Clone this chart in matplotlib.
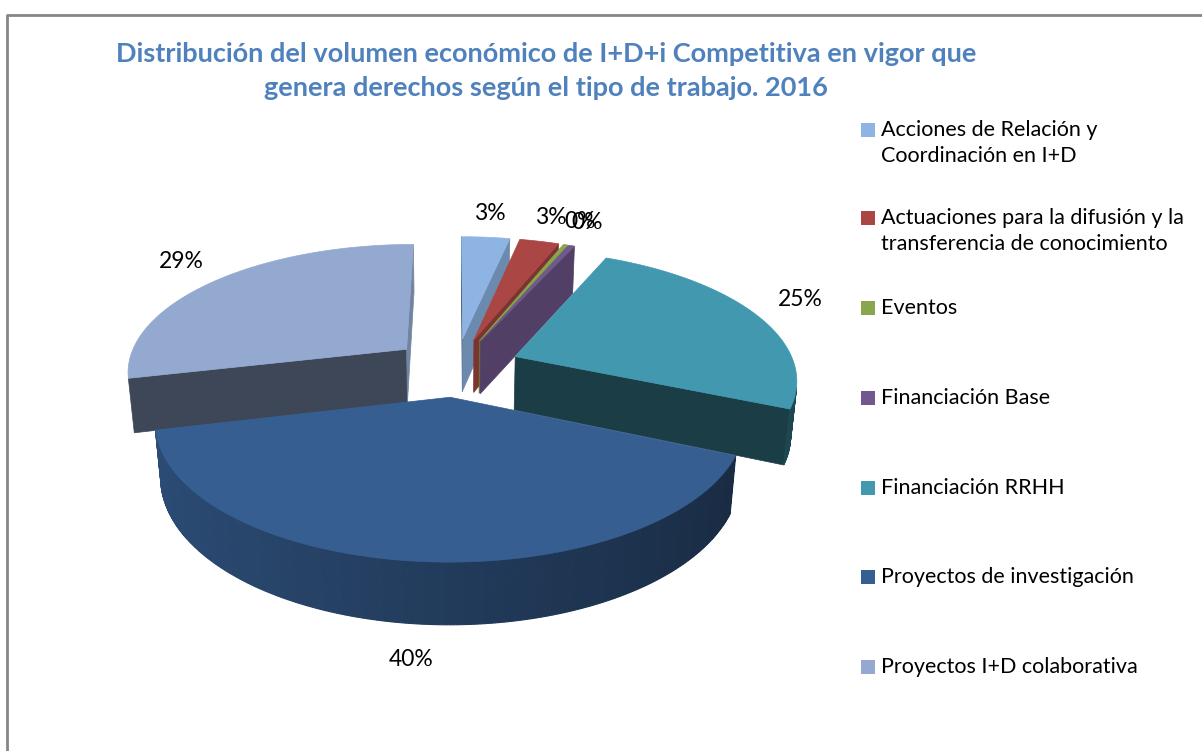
import numpy as np
import matplotlib.pyplot as plt
from matplotlib.patches import Polygon, Rectangle
from matplotlib.colors import to_rgb

plt.rcParams['font.family'] = ['Lato', 'DejaVu Sans']

title = ('Distribución del volumen económico de I+D+i Competitiva en vigor que\n'
         'genera derechos según el tipo de trabajo. 2016')
labels = ['Acciones de Relación y\nCoordinación en I+D',
          'Actuaciones para la difusión y la\ntransferencia de conocimiento',
          'Eventos',
          'Financiación Base',
          'Financiación RRHH',
          'Proyectos de investigación',
          'Proyectos I+D colaborativa']
values = [3.3, 2.7, 0.3, 0.4, 24.8, 39.8, 28.7]
colors = ['#8EB4E3', '#AA4643', '#89A54E', '#71588F', '#4198AF', '#365E91', '#93A9CF']

# view set-up (pixel space of the figure)
PHI = np.radians(27)
FOC = 5.5
SCALE = 280
CX, CY = 456, 367
EXPLODE = 0.23
THICK = 0.22
cam = np.array([0.0, FOC * np.sin(PHI), -FOC * np.cos(PHI)])


def proj(x, y, z):
    x, y, z = np.asarray(x, float), np.asarray(y, float), np.asarray(z, float)
    yc = y * np.cos(PHI) + z * np.sin(PHI)
    zc = z * np.cos(PHI) - y * np.sin(PHI)
    g = FOC / (FOC + zc)
    return CX + SCALE * x * g, CY - SCALE * yc * g


def shade(col, f):
    return tuple(np.clip(np.array(to_rgb(col)) * f, 0, 1))


def visible(n, p):
    return np.dot(n, cam - p) > 0


fig = plt.figure(figsize=(12.02, 7.51), dpi=100)
ax = fig.add_axes([0, 0, 1, 1])
ax.set_xlim(0, 1202)
ax.set_ylim(751, 0)
ax.axis('off')

fracs = np.array(values) / sum(values)
edges = np.concatenate([[0], np.cumsum(fracs)]) * 360

# sort slices far -> near
order = []
for i in range(len(values)):
    m = np.radians((edges[i] + edges[i + 1]) / 2)
    p = np.array([(EXPLODE + 0.6) * np.sin(m), 0, (EXPLODE + 0.6) * np.cos(m)])
    order.append((np.linalg.norm(cam - p), i))
order.sort(reverse=True)

z = 1
for _, i in order:
    a0, a1 = edges[i], edges[i + 1]
    m = np.radians((a0 + a1) / 2)
    ox, oz = EXPLODE * np.sin(m), EXPLODE * np.cos(m)
    col = colors[i]
    th = np.radians(np.linspace(a0, a1, max(int(a1 - a0) * 2, 4)))
    apex = np.array([ox, 0, oz])

    # radial walls
    for a, sgn in ((np.radians(a0), -1), (np.radians(a1), 1)):
        n = np.array([sgn * np.cos(a), 0, -sgn * np.sin(a)])
        if visible(n, apex):
            xs = [ox, ox + np.sin(a), ox + np.sin(a), ox]
            ys = [0, 0, -THICK, -THICK]
            zs = [oz, oz + np.cos(a), oz + np.cos(a), oz]
            px, py = proj(xs, ys, zs)
            f = 0.40 + 0.38 * max(n[0], 0) ** 2
            ax.add_patch(Polygon(np.c_[px, py], closed=True, fc=shade(col, f),
                                 ec=shade(col, f), lw=0.5, zorder=z))
            z += 1

    # outer curved wall
    for j in range(len(th) - 1):
        tm = (th[j] + th[j + 1]) / 2
        n = np.array([np.sin(tm), 0, np.cos(tm)])
        p = np.array([ox + np.sin(tm), 0, oz + np.cos(tm)])
        if not visible(n, p):
            continue
        t2 = th[j:j + 2]
        xs = np.r_[ox + np.sin(t2), ox + np.sin(t2[::-1])]
        zs = np.r_[oz + np.cos(t2), oz + np.cos(t2[::-1])]
        ys = [0, 0, -THICK, -THICK]
        px, py = proj(xs, ys, zs)
        f = 0.63 - 0.18 * np.sin(tm)
        ax.add_patch(Polygon(np.c_[px, py], closed=True, fc=shade(col, f),
                             ec=shade(col, f), lw=0.8, zorder=z))
    z += 1

    # top face
    xs = np.r_[ox, ox + np.sin(th)]
    zs = np.r_[oz, oz + np.cos(th)]
    px, py = proj(xs, np.zeros_like(xs), zs)
    ax.add_patch(Polygon(np.c_[px, py], closed=True, fc=col, ec=col, lw=0.5, zorder=z))
    z += 1

# data labels
for i in range(len(values)):
    m = np.radians((edges[i] + edges[i + 1]) / 2)
    r = EXPLODE + 1.2
    yp = 0 if np.cos(m) >= 0 else -THICK
    lx, ly = proj(r * np.sin(m), yp, r * np.cos(m))
    ax.annotate('{0:.0f}%'.format(fracs[i] * 100), (lx, ly), xytext=(0, 5),
                textcoords='offset points', fontsize=16.5,
                ha='center', va='center', color='black', zorder=100)

# legend
leg_y = [130, 218, 308, 398, 488, 577, 667]
for i, lab in enumerate(labels):
    ax.add_patch(Rectangle((861, leg_y[i] - 7), 14, 14, fc=colors[i], ec='none'))
    for k, line in enumerate(lab.split('\n')):
        ax.text(881, leg_y[i] + k * 26, line, fontsize=15.5, ha='left', va='center')

# title
ax.text(546, 71, title, fontsize=19.5, fontweight='bold', color='#4F81BD',
        ha='center', va='center', linespacing=1.45)

# chart frame
ax.plot([7, 7, 1202], [751, 15, 15], color='#868686', lw=2, solid_capstyle='butt')

fig.savefig('out.png', dpi=100)
